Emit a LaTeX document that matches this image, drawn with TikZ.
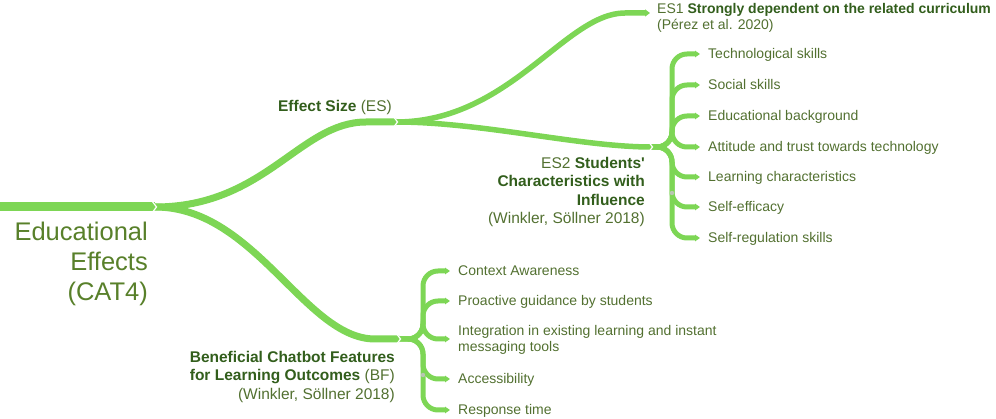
\documentclass[tikz,border=0pt]{standalone}
\usepackage{fontspec}
\setmainfont{Liberation Sans}
\usetikzlibrary{arrows.meta}
\definecolor{branch}{RGB}{125,214,85}
\definecolor{txtgreen}{RGB}{82,112,48}
\definecolor{boldgreen}{RGB}{50,94,28}
\definecolor{rootgreen}{RGB}{88,128,42}
\newcommand{\bfg}[1]{\textbf{\color{boldgreen}#1}}

\begin{document}
\begin{tikzpicture}[
    x=1pt, y=-1pt,
    every node/.style={font=\fontsize{15.5}{18.5}\selectfont, text=txtgreen, inner sep=0pt},
    trunk/.style={draw=branch, line width=9pt},
    limb/.style={draw=branch, line width=7pt},
    twig/.style={draw=branch, line width=5.5pt},
    leafline/.style={draw=branch, line width=5pt, rounded corners=15pt,
        -{Triangle[length=5pt,width=6.5pt]}},
    leaf/.style={anchor=west, font=\fontsize{14}{17}\selectfont, inner xsep=8pt,
        text height=10pt, text depth=0pt},
    notch/.style={draw=white, line width=1.2pt},
    knob/.style={fill=white!75!branch!60!gray}
]
\useasboundingbox (0,0) rectangle (996,419);

% junctions
\coordinate (start) at (0,207);
\coordinate (root) at (155,207);
\coordinate (es) at (396,122);
\coordinate (es1) at (650,13);
\coordinate (es2) at (651,147);
\coordinate (bf) at (399,339);

% root label
\node[anchor=north east, align=right, font=\fontsize{25.5}{30}\selectfont, text=rootgreen]
    (root label) at (148,222) {Educational\\Effects\\(CAT4)};

% main branches
\draw[trunk] (start) -- (root);
\draw[limb] (root) .. controls +(110,0) and +(-66,0) .. ([xshift=-30pt]es) -- (es);
\draw[limb] (root) .. controls +(100,0) and +(-70,0) .. ([xshift=-24pt]bf) -- (bf);

% effect size
\node[anchor=north east] (es label) at (392,100) {\bfg{Effect Size} (ES)};
\draw[twig, -{Triangle[length=5pt,width=7pt]}] (es) .. controls +(114,0) and +(-60,0) .. ([xshift=-25pt]es1) -- (es1);
\draw[twig] (es) .. controls +(85,0) and +(-70,0) .. (es2);

\node[anchor=north west, align=left, font=\fontsize{14}{16.5}\selectfont] (es1 label) at (657,3)
    {ES1 \bfg{Strongly dependent on the related curriculum}\\(Pérez et al. 2020)};
\node[anchor=north east, align=right] (es2 label) at (645,157)
    {ES2 \bfg{Students\textquotesingle}\\\bfg{Characteristics with}\\\bfg{Influence}\\(Winkler, Söllner 2018)};

% students' characteristics
\foreach \y/\t [count=\i] in {54/Technological skills, 85/Social skills,
    116/Educational background, 147/Attitude and trust towards technology,
    177/Learning characteristics, 207/Self-efficacy, 238/Self-regulation skills}{
  \node[leaf] (sc\i) at (700,\y) {\t};
  \draw[leafline] (es2) -- (672,147) |- (sc\i.west);
}

% beneficial features
\node[anchor=north east, align=right] (bf label) at (395,351)
    {\bfg{Beneficial Chatbot Features}\\\bfg{for Learning Outcomes} (BF)\\(Winkler, Söllner 2018)};

\node[leaf] (bf1) at (450,271) {Context Awareness};
\node[leaf] (bf2) at (450,301) {Proactive guidance by students};
\node[anchor=west, align=left, font=\fontsize{14}{16}\selectfont, inner xsep=8pt]
    (bf3) at (450,340) {Integration in existing learning and instant\\messaging tools};
\node[leaf] (bf4) at (450,379) {Accessibility};
\node[leaf] (bf5) at (450,410) {Response time};
\foreach \i/\y in {1/271, 2/301, 3/339, 4/379, 5/410}
  \draw[leafline] (bf) -- (423,339) |- (bf\i.west |- 0,\y);

% chevrons at junctions
\foreach \c in {root,es,es2,bf}
  \draw[notch] ([shift={(-3,-6)}]\c) -- ([shift={(1.5,0)}]\c) -- ([shift={(-3,6)}]\c);

\fill[knob] (672,193) circle (2.2);
\fill[knob] (423,375) circle (2.2);
\end{tikzpicture}
\end{document}
